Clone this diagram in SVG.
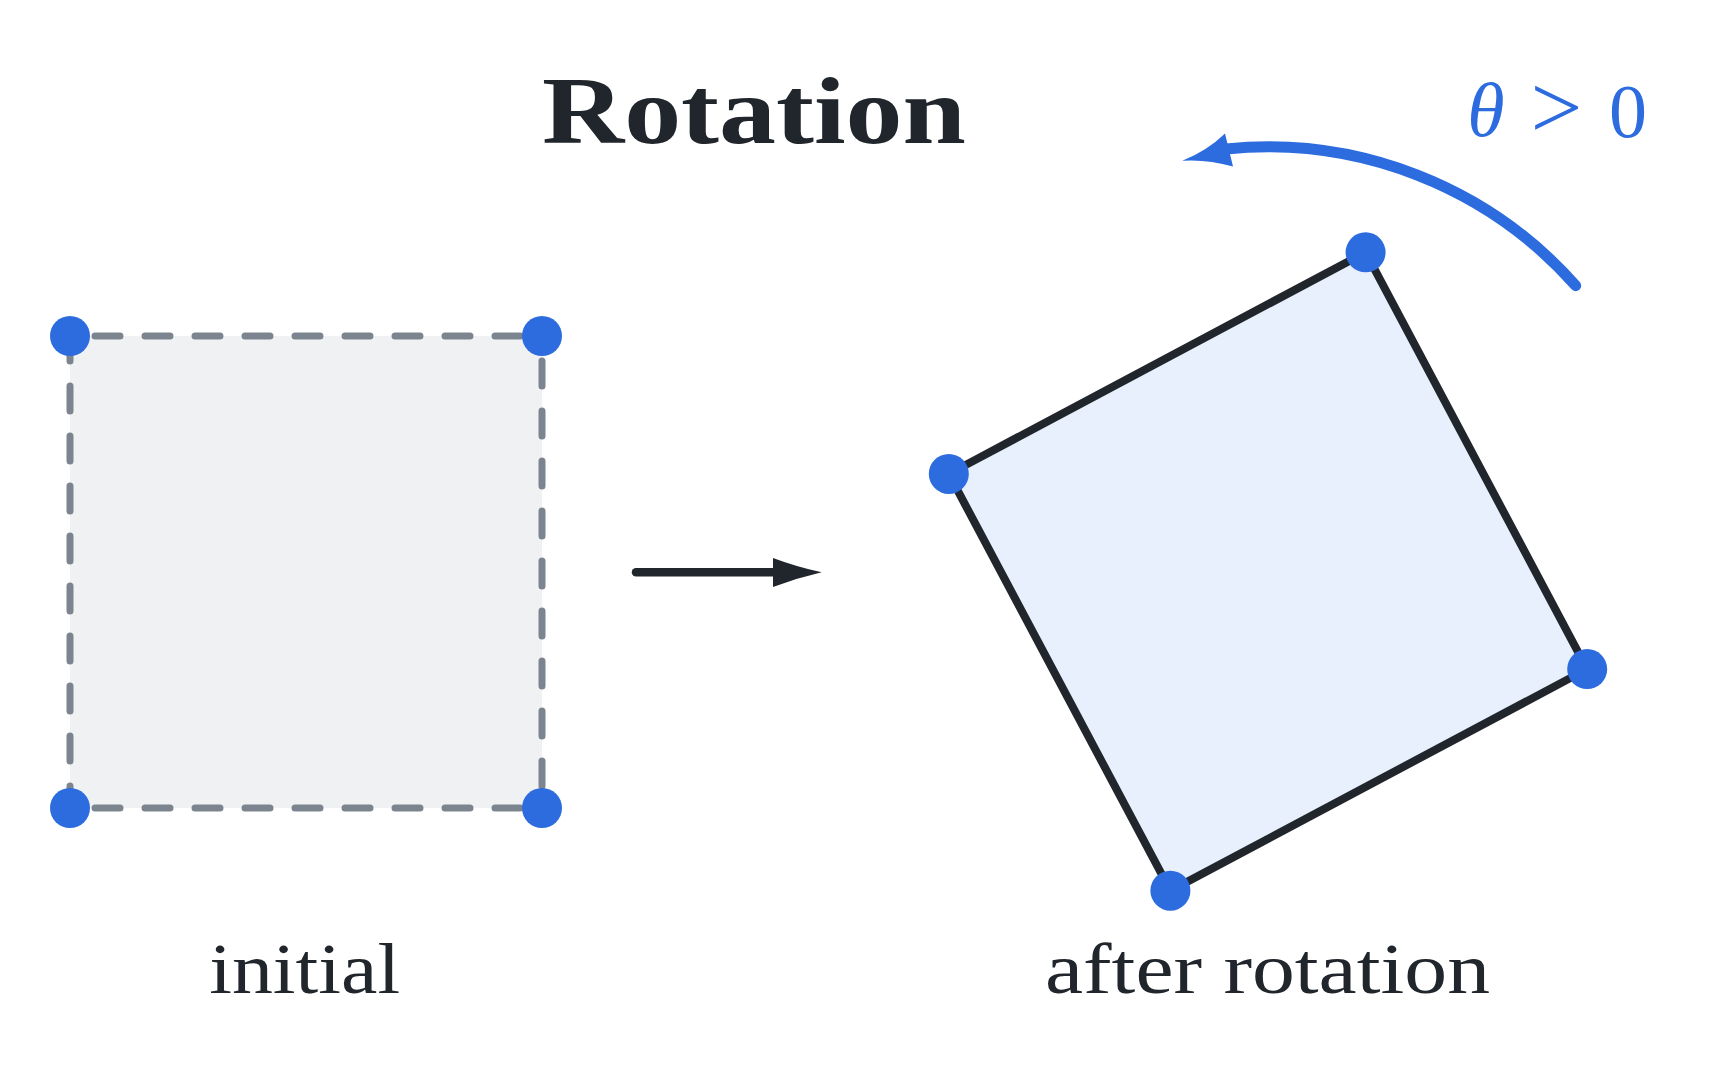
<svg xmlns="http://www.w3.org/2000/svg" width="1725" height="1073" viewBox="0 0 1725 1073">
  <style>
    .dot { fill: #2d6cdf; }
    .dash { stroke: #7c858f; stroke-width: 7; stroke-linecap: round; fill: none; stroke-dasharray: 25 25; }
    .lbl { font-family: "Liberation Serif", "Times New Roman", serif; fill: #21262c; }
    .blue { font-family: "Liberation Serif", "Times New Roman", serif; fill: #2d6cdf; }
  </style>
  <rect width="1725" height="1073" fill="#ffffff"/>

  <text id="title" class="lbl" x="753.9" y="142.7" text-anchor="middle" font-size="96" font-weight="bold" textLength="424" lengthAdjust="spacingAndGlyphs">Rotation</text>

  <g id="initial-square">
    <rect x="70" y="336" width="472" height="472" fill="#eff1f3"/>
    <line class="dash" x1="70" y1="336" x2="542" y2="336" stroke-dashoffset="25"/>
    <line class="dash" x1="70" y1="336" x2="70" y2="808"/>
    <line class="dash" x1="542" y1="336" x2="542" y2="808" stroke-dashoffset="25"/>
    <line class="dash" x1="70" y1="808" x2="542" y2="808" stroke-dashoffset="25"/>
    <circle class="dot" cx="70" cy="336" r="20"/>
    <circle class="dot" cx="542" cy="336" r="20"/>
    <circle class="dot" cx="70" cy="808" r="20"/>
    <circle class="dot" cx="542" cy="808" r="20"/>
  </g>

  <g id="rotated-square">
    <rect x="-236" y="-236" width="472" height="472" transform="translate(1268 571.5) rotate(-28)" fill="#e8f0fd" stroke="#21262c" stroke-width="8" stroke-linejoin="round"/>
    <circle class="dot" cx="948.8" cy="473.9" r="20"/>
    <circle class="dot" cx="1365.6" cy="252.3" r="20"/>
    <circle class="dot" cx="1587.2" cy="669.1" r="20"/>
    <circle class="dot" cx="1170.4" cy="890.7" r="20"/>
  </g>

  <g id="connectors">
    <g id="transform-arrow">
      <line x1="636" y1="572.3" x2="780" y2="572.3" stroke="#21262c" stroke-width="8.5" stroke-linecap="round"/>
      <path d="M 821.7 572.3 Q 797 567 773 558 L 773 587 Q 797 578 821.7 572.3 Z" fill="#21262c"/>
    </g>
    <g id="rotation-arrow">
      <path d="M 1575.7 285.7 A 411 411 0 0 0 1226 149" fill="none" stroke="#2d6cdf" stroke-width="11" stroke-linecap="round"/>
      <path d="M 1182.3 160.7 Q 1207 151 1225 133.5 L 1233 166.5 Q 1207 159 1182.3 160.7 Z" fill="#2d6cdf"/>
    </g>
  </g>

  <g id="theta-label">
    <text class="blue" x="1486" y="136" text-anchor="middle" font-size="76" font-style="italic">θ</text>
    <text class="blue" x="1556.5" y="138" text-anchor="middle" font-size="92">&gt;</text>
    <text class="blue" x="1628" y="137" text-anchor="middle" font-size="76">0</text>
  </g>

  <text id="label-initial" class="lbl" x="304.7" y="993.3" text-anchor="middle" font-size="72" textLength="191" lengthAdjust="spacingAndGlyphs">initial</text>
  <text id="label-after" class="lbl" x="1267.5" y="993.3" text-anchor="middle" font-size="72" textLength="445" lengthAdjust="spacingAndGlyphs">after rotation</text>
</svg>
